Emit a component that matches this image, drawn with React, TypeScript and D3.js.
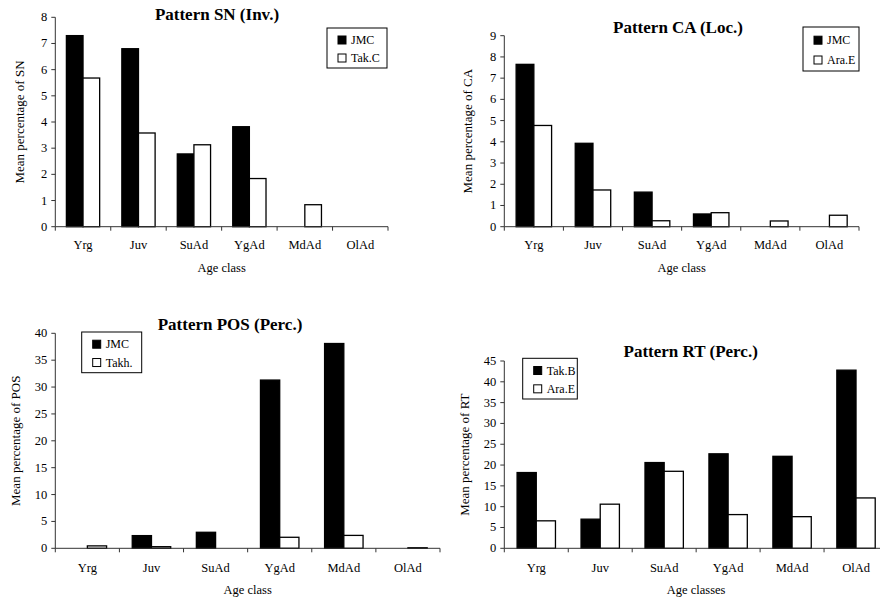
import React from "react";
import * as d3 from "d3";

const ageClasses = ["Yrg", "Juv", "SuAd", "YgAd", "MdAd", "OlAd"];

const snSeries = ["JMC", "Tak.C"];
const snJMC = [7.3, 6.8, 2.78, 3.82, 0, 0];
const snTakC = [5.68, 3.58, 3.13, 1.84, 0.84, 0];

const caSeries = ["JMC", "Ara.E"];
const caJMC = [7.65, 3.93, 1.63, 0.6, 0, 0];
const caAraE = [4.77, 1.73, 0.28, 0.66, 0.27, 0.54];

const posSeries = ["JMC", "Takh."];
const posJMC = [0, 2.36, 2.98, 31.3, 38.1, 0];
const posTakh = [0.45, 0.3, 0, 2.05, 2.4, 0.1];

const rtSeries = ["Tak.B", "Ara.E"];
const rtTakB = [18.2, 7.0, 20.6, 22.7, 22.1, 42.8];
const rtAraE = [6.6, 10.6, 18.5, 8.1, 7.6, 12.1];

const FONT = "'Liberation Serif', 'Times New Roman', serif";

type PanelProps = {
  title: string;
  yLabel: string;
  xLabel: string;
  series: string[];
  values: number[][];
  yMax: number;
  yStep: number;
  left: number;
  right: number;
  bottom: number;
  top: number;
  titleX: number;
  titleY: number;
  yLabelX: number;
  tickLabelY: number;
  xLabelY: number;
  legend: { x: number; y: number; w: number; h: number };
};

function Panel(p: PanelProps) {
  const x = d3.scaleBand<string>().domain(ageClasses).range([p.left, p.right]).padding(0);
  const bw = x.bandwidth();
  const inner = d3
    .scaleBand<string>()
    .domain(p.series)
    .range([bw * 0.2, bw * 0.8])
    .padding(0);
  const y = d3.scaleLinear().domain([0, p.yMax]).range([p.bottom, p.top]);
  const yTicks = d3.range(0, p.yMax + p.yStep / 2, p.yStep);
  const fills = ["#000", "#fff"];
  const axisColor = "#333";
  return (
    <g fontFamily={FONT}>
      {p.series.map((s, si) =>
        ageClasses.map((c, ci) => {
          const v = p.values[si][ci];
          if (v <= 0) return null;
          const bx = (x(c) as number) + (inner(s) as number);
          return (
            <rect
              key={s + c}
              x={bx}
              y={y(v)}
              width={inner.bandwidth()}
              height={p.bottom - y(v)}
              fill={fills[si]}
              stroke="#000"
              strokeWidth={1.3}
            />
          );
        })
      )}
      <line x1={p.left} x2={p.left} y1={p.top} y2={p.bottom} stroke={axisColor} strokeWidth={1} />
      {yTicks.map((t) => (
        <g key={t}>
          <line x1={p.left - 4} x2={p.left} y1={y(t)} y2={y(t)} stroke={axisColor} />
          <text x={p.left - 8} y={y(t) + 4} textAnchor="end" fontSize={12.5}>
            {t}
          </text>
        </g>
      ))}
      <line x1={p.left} x2={p.right} y1={p.bottom} y2={p.bottom} stroke={axisColor} strokeWidth={1} />
      {ageClasses.map((c) => (
        <line
          key={"t" + c}
          x1={x(c) as number}
          x2={x(c) as number}
          y1={p.bottom}
          y2={p.bottom + 4}
          stroke={axisColor}
        />
      ))}
      <line x1={p.right} x2={p.right} y1={p.bottom} y2={p.bottom + 4} stroke={axisColor} />
      {ageClasses.map((c) => (
        <text
          key={"l" + c}
          x={(x(c) as number) + bw / 2}
          y={p.tickLabelY}
          textAnchor="middle"
          fontSize={12.5}
        >
          {c}
        </text>
      ))}
      <text x={(p.left + p.right) / 2} y={p.xLabelY} textAnchor="middle" fontSize={12.5}>
        {p.xLabel}
      </text>
      <text
        transform={`translate(${p.yLabelX},${(p.top + p.bottom) / 2}) rotate(-90)`}
        textAnchor="middle"
        fontSize={13}
      >
        {p.yLabel}
      </text>
      <text x={p.titleX} y={p.titleY} textAnchor="middle" fontSize={17} fontWeight="bold">
        {p.title}
      </text>
      <rect
        x={p.legend.x}
        y={p.legend.y}
        width={p.legend.w}
        height={p.legend.h}
        fill="#fff"
        stroke="#000"
        strokeWidth={1}
      />
      {p.series.map((s, i) => {
        const cy = p.legend.y + p.legend.h * (0.3 + 0.45 * i);
        return (
          <g key={"lg" + s}>
            <rect
              x={p.legend.x + 11}
              y={cy - 4}
              width={8}
              height={8}
              fill={fills[i]}
              stroke="#000"
              strokeWidth={1}
            />
            <text x={p.legend.x + 24} y={cy + 4} fontSize={12}>
              {s}
            </text>
          </g>
        );
      })}
    </g>
  );
}

export default function App() {
  return (
    <svg
      width={880}
      height={598}
      style={{ position: "absolute", left: 0, top: 0, background: "#fff" }}
    >
      <rect width={880} height={598} fill="#fff" />
      <Panel
        title="Pattern SN (Inv.)"
        yLabel="Mean percentage of SN"
        xLabel="Age class"
        series={snSeries}
        values={[snJMC, snTakC]}
        yMax={8}
        yStep={1}
        left={55.3}
        right={388}
        bottom={226.7}
        top={17.3}
        titleX={217}
        titleY={20}
        yLabelX={24}
        tickLabelY={249}
        xLabelY={272}
        legend={{ x: 327, y: 28, w: 60, h: 40 }}
      />
      <Panel
        title="Pattern CA (Loc.)"
        yLabel="Mean percentage of CA"
        xLabel="Age class"
        series={caSeries}
        values={[caJMC, caAraE]}
        yMax={9}
        yStep={1}
        left={504.3}
        right={859}
        bottom={226.7}
        top={35.7}
        titleX={678}
        titleY={33}
        yLabelX={472}
        tickLabelY={249}
        xLabelY={272}
        legend={{ x: 803, y: 27, w: 56, h: 44 }}
      />
      <Panel
        title="Pattern POS (Perc.)"
        yLabel="Mean percentage of POS"
        xLabel="Age class"
        series={posSeries}
        values={[posJMC, posTakh]}
        yMax={40}
        yStep={5}
        left={55.3}
        right={440}
        bottom={548.3}
        top={333.3}
        titleX={230}
        titleY={330}
        yLabelX={20}
        tickLabelY={572}
        xLabelY={594}
        legend={{ x: 81.7, y: 332, w: 60, h: 40.7 }}
      />
      <Panel
        title="Pattern RT (Perc.)"
        yLabel="Mean percentage of RT"
        xLabel="Age classes"
        series={rtSeries}
        values={[rtTakB, rtAraE]}
        yMax={45}
        yStep={5}
        left={504.3}
        right={888}
        bottom={548.3}
        top={361}
        titleX={690.7}
        titleY={357}
        yLabelX={469}
        tickLabelY={572}
        xLabelY={594}
        legend={{ x: 522.7, y: 358.3, w: 54.6, h: 40.7 }}
      />
    </svg>
  );
}
